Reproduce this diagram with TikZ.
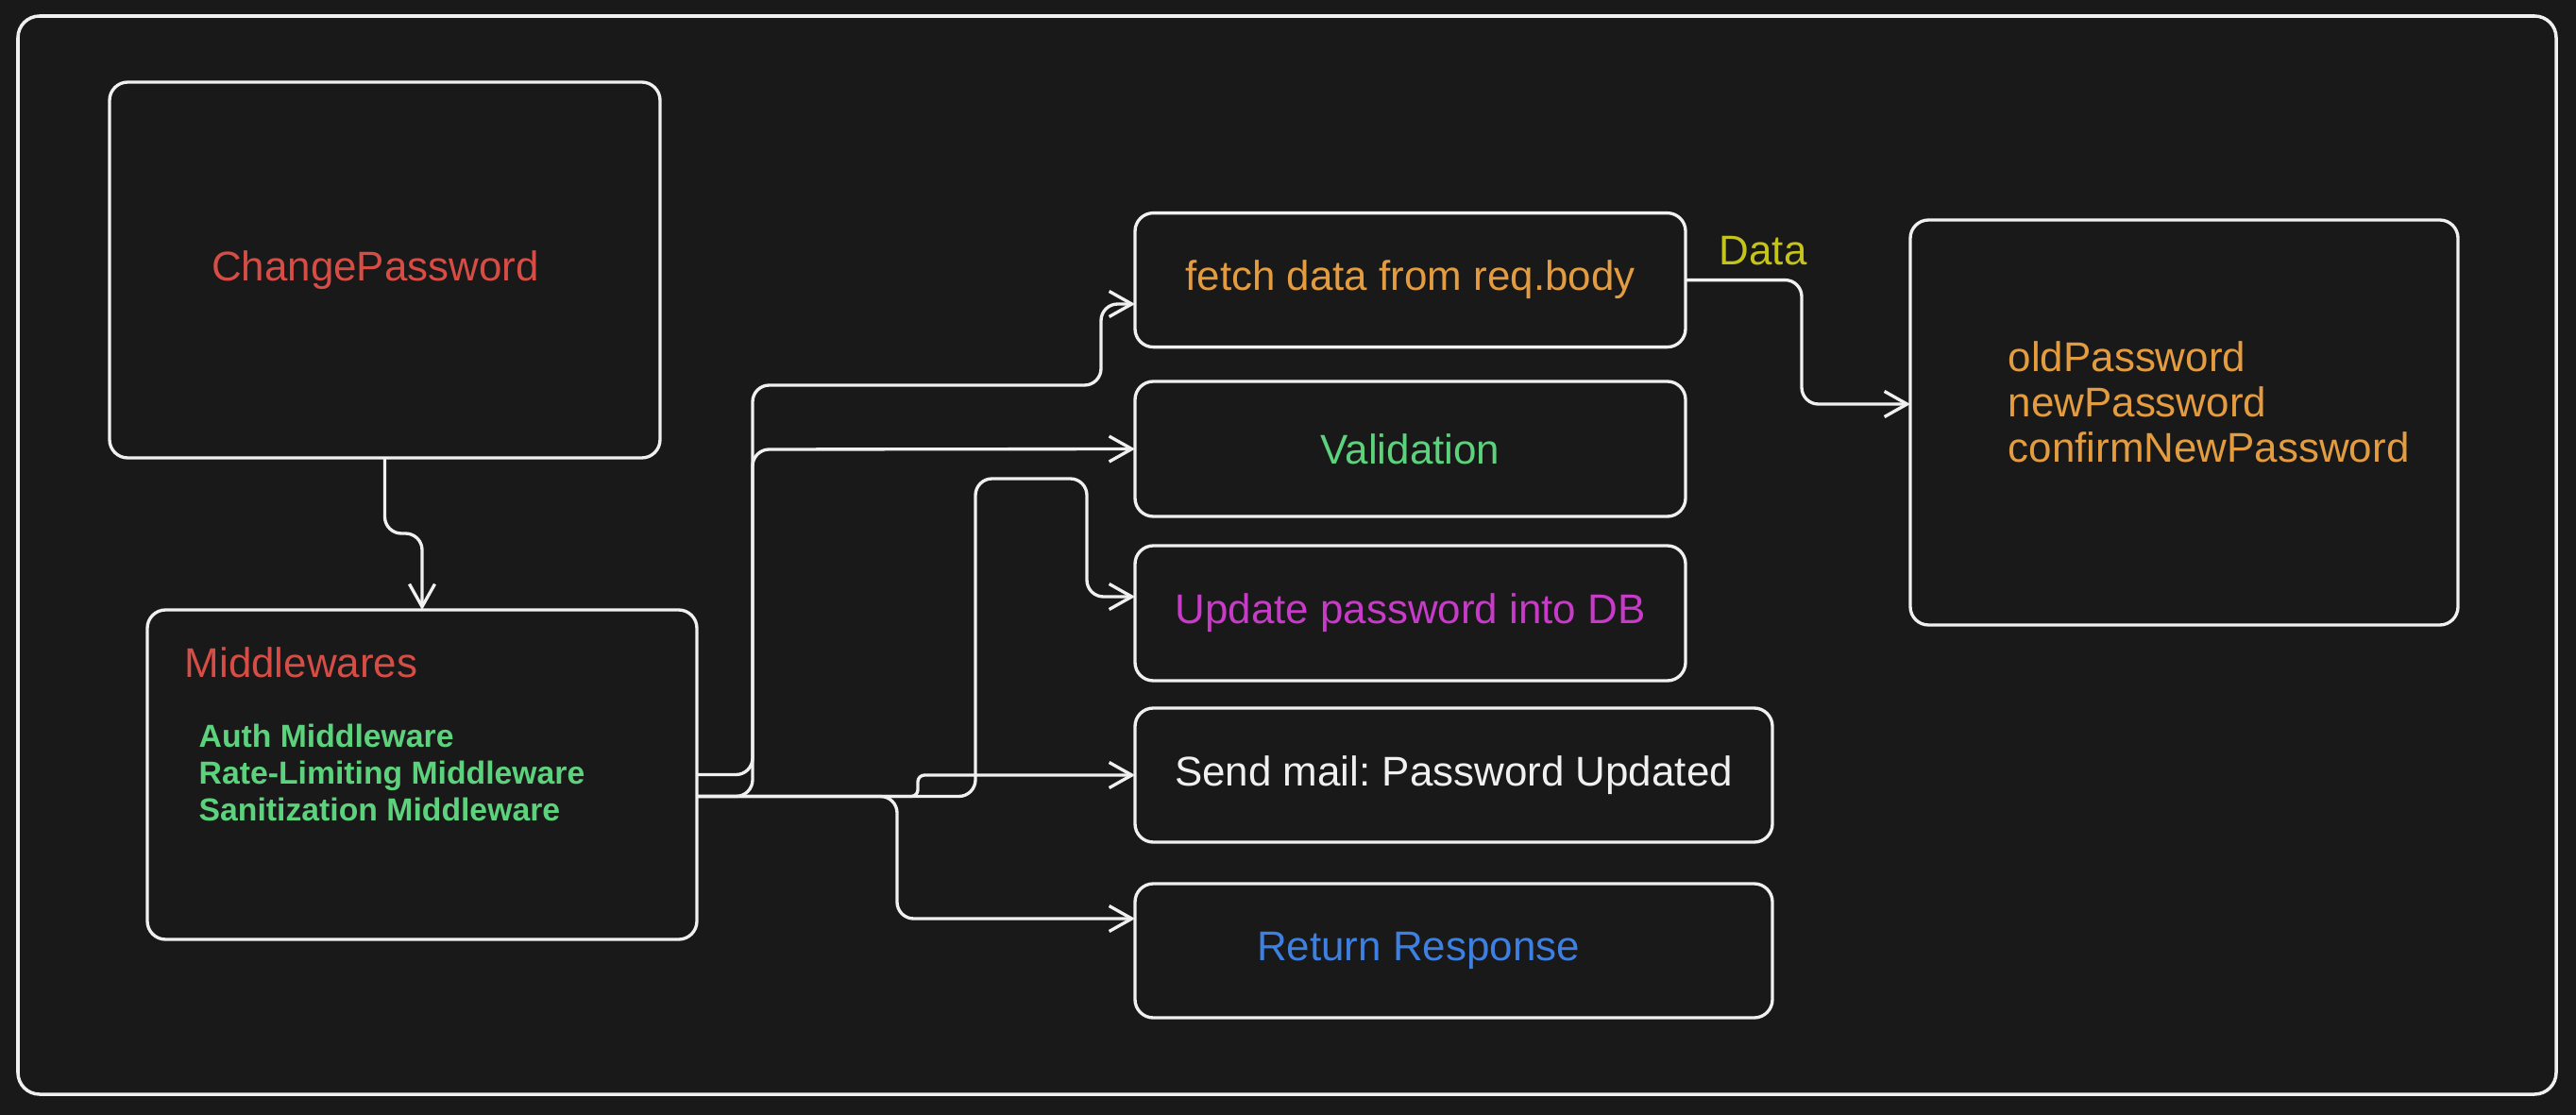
\documentclass[tikz,border=0pt]{standalone}
\usepackage{fontspec}
\setmainfont{Liberation Sans}
\usetikzlibrary{arrows.meta}

\definecolor{canvas}{RGB}{25,25,25}
\definecolor{ink}{RGB}{240,240,240}
\definecolor{crimson}{RGB}{214,77,70}
\definecolor{mint}{RGB}{93,210,125}
\definecolor{amber}{RGB}{228,156,64}
\definecolor{orchid}{RGB}{200,58,200}
\definecolor{skyblue}{RGB}{62,128,226}
\definecolor{olive}{RGB}{196,196,26}

\tikzset{
  box/.style={draw=ink, line width=0.95pt, rounded corners=5.5pt, inner sep=0pt, outer sep=0pt},
  conn/.style={draw=ink, line width=0.95pt, rounded corners=5pt,
    -{Straight Barb[length=2.4mm,width=2.7mm]}},
  lbl/.style={font=\fontsize{12.5}{15}\selectfont},
  item/.style={font=\fontsize{9.6}{11.5}\selectfont\bfseries, text=mint, inner sep=0pt},
}

\begin{document}
\frenchspacing
\begin{tikzpicture}

% canvas and frame
\fill[canvas] (0,0) rectangle (27.28,-11.81);
\useasboundingbox (0,0) rectangle (27.28,-11.81);
\draw[ink, line width=1pt, rounded corners=6.5pt] (0.19,-0.17) rectangle (27.07,-11.59);

% left column
\node[box, lbl, text=crimson, minimum width=5.83cm, minimum height=3.98cm] (cp) at (4.075,-2.86) {\hspace*{-2mm}ChangePassword};
\node[box, minimum width=5.82cm, minimum height=3.49cm] (mw) at (4.47,-8.205) {};
\node[lbl, text=crimson, anchor=base west, inner sep=0pt] (mwtitle) at (1.95,-7.17) {Middlewares};
\foreach \t [count=\i] in {Auth Middleware, Rate-Limiting Middleware, Sanitization Middleware} {
    \node[item, anchor=base west] (mw\i) at (2.10,{-7.91-0.39*(\i-1)}) {\t};
}

% steps
\node[box, lbl, text=amber, minimum width=5.83cm, minimum height=1.42cm] (fetch) at (14.935,-2.966) {fetch data from req.body};
\node[box, lbl, text=mint, minimum width=5.83cm, minimum height=1.43cm] (valid) at (14.935,-4.755) {Validation};
\node[box, lbl, text=orchid, minimum width=5.83cm, minimum height=1.43cm] (upd) at (14.935,-6.495) {Update password into DB};
\node[box, lbl, text=ink, minimum width=6.75cm, minimum height=1.42cm] (mail) at (15.395,-8.21) {Send mail: Password Updated};
\node[box, minimum width=6.75cm, minimum height=1.42cm] (resp) at (15.395,-10.07) {};
\node[lbl, text=skyblue, inner sep=0pt] (resptxt) at (15.02,-10.07) {Return Response};

% request body fields
\node[box, minimum width=5.80cm, minimum height=4.29cm] (data) at (23.13,-4.475) {};
\foreach \f [count=\i] in {oldPassword, newPassword, confirmNewPassword} {
    \node[lbl, text=amber, anchor=base west, inner sep=0pt] (field\i) at (21.26,{-3.93-0.48*(\i-1)}) {\f};
}
\node[lbl, text=olive, anchor=base west, inner sep=0pt] (datalbl) at (18.20,-2.81) {Data};

% connectors
\draw[conn] (cp.south) -- ++(0,-0.8) -| (mw.north);
\draw[conn] (mw.east) -| (7.97,-4.08) -| (11.66,-3.22) -- ([yshift=-2.54mm]fetch.west);
\draw[conn] ([yshift=-2.3mm]mw.east) -| (7.97,-4.76) -- (valid.west);
\draw[conn] ([yshift=-2.3mm]mw.east) -| (10.33,-5.07) -| (11.51,-6.32) -- ([yshift=1.75mm]upd.west);
\draw[conn, rounded corners=2pt] ([yshift=-2.3mm]mw.east) -| (9.72,-8.21) -- (mail.west);
\draw[conn] ([yshift=-2.3mm]mw.east) -| (9.50,-9.73) -- ([yshift=3.4mm]resp.west);
\draw[conn] (fetch.east) -| (19.08,-4.28) -- ([yshift=1.95mm]data.west);

\end{tikzpicture}
\end{document}
